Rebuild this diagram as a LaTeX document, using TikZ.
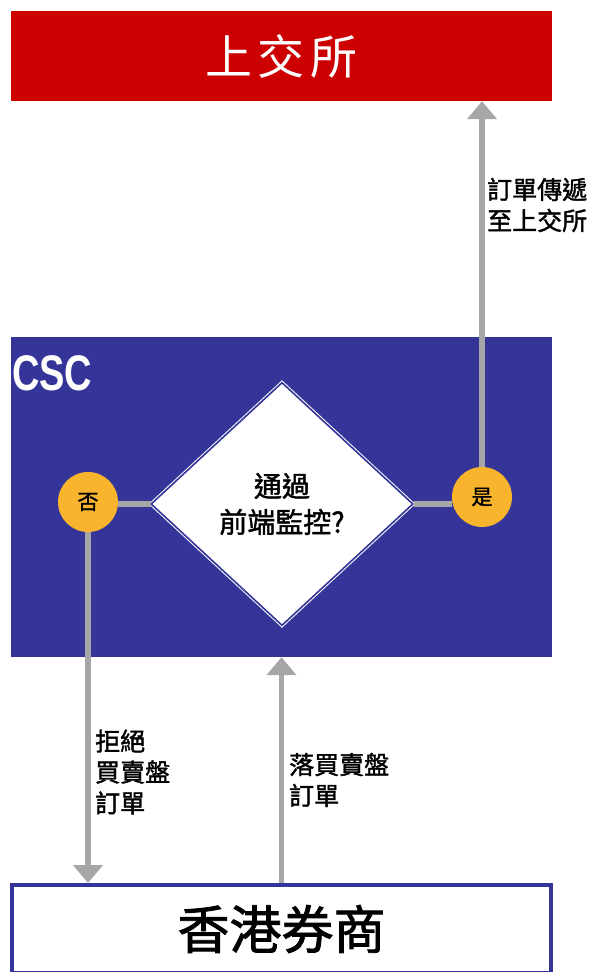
\documentclass[tikz,border=0pt]{standalone}
\usepackage{fontspec}
\newfontfamily\cjk{Noto Sans CJK TC}
\newfontfamily\cjkb[FakeBold=1.6]{Noto Sans CJK TC}
\newfontfamily\cscfont[FakeStretch=0.76]{Liberation Sans Bold}
\usetikzlibrary{shapes.geometric,arrows.meta}
\definecolor{ssered}{HTML}{CC0000}
\definecolor{cscblue}{HTML}{353599}
\definecolor{conngray}{HTML}{A6A6A6}
\definecolor{circorange}{HTML}{F8B42D}
\tikzset{
  boxnode/.style={rectangle, inner sep=0pt, minimum width=541pt},
  decision/.style={diamond, fill=white, draw=white, double=cscblue, double distance=1.6pt, line width=1pt, inner sep=0pt, minimum width=262pt, minimum height=243pt, align=center, font=\cjkb\fontsize{28pt}{36pt}\selectfont},
  answer/.style={circle, fill=circorange, inner sep=0pt, minimum size=60pt, font=\cjkb\fontsize{21pt}{21pt}\selectfont},
  conn/.style={draw=conngray, line width=5.5pt},
  arr/.style={conn, -{Triangle[width=29pt,length=18pt]}, color=conngray},
  lbl/.style={anchor=west, align=left, inner sep=0pt, font=\cjkb\fontsize{25pt}{31pt}\selectfont},
}
\begin{document}
\begin{tikzpicture}[x=1pt,y=-1pt]
\useasboundingbox (0,0) rectangle (595,972);
\clip (0,0) rectangle (595,972);
\node[boxnode, fill=ssered, minimum height=90pt, text=white, font=\cjk\fontsize{47pt}{47pt}\selectfont] (sse) at (281.5,56) {上\hspace{6pt}交\hspace{6pt}所};
\node[boxnode, fill=cscblue, minimum height=320pt] (csc) at (281.5,497) {};
\node[anchor=north west, inner sep=0pt, text=white, font=\cscfont\fontsize{50pt}{50pt}\selectfont] (csclbl) at (12,355) {CSC};
\node[boxnode, fill=white, draw=cscblue, line width=4pt, minimum width=539pt, minimum height=88pt, font=\cjkb\fontsize{52pt}{52pt}\selectfont] (hk) at (281.5,929) {香港券商};
\node[decision] (dm) at (282,504) {通過\\前端監控?};
\node[answer] (no) at (88,502) {否};
\node[answer] (yes) at (482,497) {是};
\draw[conn] (dm.west) -- (dm.west -| no.east);
\draw[conn] (dm.east) -- (dm.east -| yes.west);
\draw[arr] (yes.north) -- (yes.north |- sse.south);
\draw[arr] (no.south) -- (no.south |- hk.north);
\draw[arr] (hk.north) -- (csc.south);
\node[lbl] (l1) at (487,205) {訂單傳遞\\至上交所};
\node[lbl] (l2) at (95,772) {拒絕\\買賣盤\\訂單};
\node[lbl] (l3) at (289,780) {落買賣盤\\訂單};
\end{tikzpicture}
\end{document}
